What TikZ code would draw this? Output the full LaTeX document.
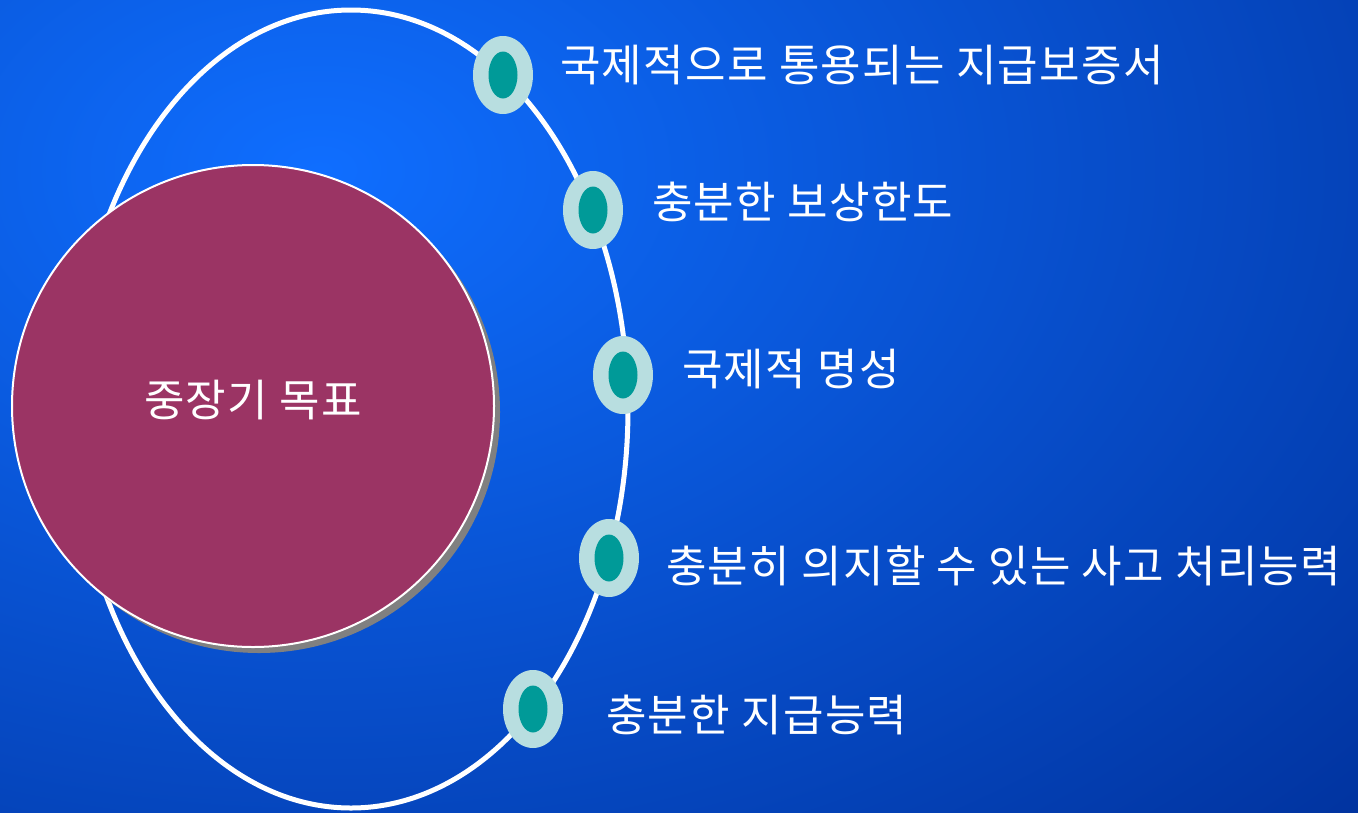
\documentclass[tikz,border=0pt]{standalone}
\usepackage{fontspec}
\newfontfamily\krfont[LetterSpace=3]{Noto Sans CJK KR}
\usetikzlibrary{shapes.geometric, shadows}

\definecolor{bghi}{HTML}{0F6EFF}
\definecolor{bglo}{HTML}{00309A}
\definecolor{goalred}{HTML}{9B3464}
\definecolor{beadout}{HTML}{B8DEE0}
\definecolor{beadin}{HTML}{009A98}

\begin{document}
\begin{tikzpicture}[x=1pt, y=-1pt,
        goal/.style={circle, fill=goalred, draw=white, line width=2pt, minimum size=482pt, inner sep=0pt,
          drop shadow={shadow xshift=6pt, shadow yshift=-6pt, opacity=1, fill=black!50}},
        bead/.style={ellipse, fill=beadout, minimum width=60pt, minimum height=78pt, inner sep=0pt,
          path picture={\fill[beadin] (path picture bounding box.center) ellipse [x radius=14.5pt, y radius=23.5pt];}},
        lbl/.style={text=white, inner sep=0pt, font=\krfont\fontsize{44}{50}\selectfont}
      ]

      \useasboundingbox (0,0) rectangle (1358,812);
      \begin{scope}
        \clip (0,0) rectangle (1358,812);
        \fill[bglo] (0,0) rectangle (1358,812);
        \shade[inner color=bghi, outer color=bglo] (320,170) ellipse [x radius=1500pt, y radius=1000pt];
      \end{scope}

      \draw[white, line width=5pt] (351,409) ellipse [x radius=277pt, y radius=399pt];

      \node[goal] (goal) at (253,406) {};
      \node[lbl] (goaltxt) at ([yshift=6pt]goal.center) {중장기 목표};

      \node[bead] (b1) at (503,75) {};
      \node[bead] (b2) at (593,210) {};
      \node[bead] (b3) at (623,375) {};
      \node[bead] (b4) at (609,558) {};
      \node[bead] (b5) at (533,709) {};

      \node[lbl, anchor=west] (t1) at (560,65) {국제적으로 통용되는 지급보증서};
      \node[lbl, anchor=west] (t2) at (652,202) {충분한 보상한도};
      \node[lbl, anchor=west] (t3) at (682,369) {국제적 명성};
      \node[lbl, anchor=west] (t4) at (666,566) {충분히 의지할 수 있는 사고 처리능력};
      \node[lbl, anchor=west] (t5) at (606,715) {충분한 지급능력};

    \end{tikzpicture}
\end{document}
